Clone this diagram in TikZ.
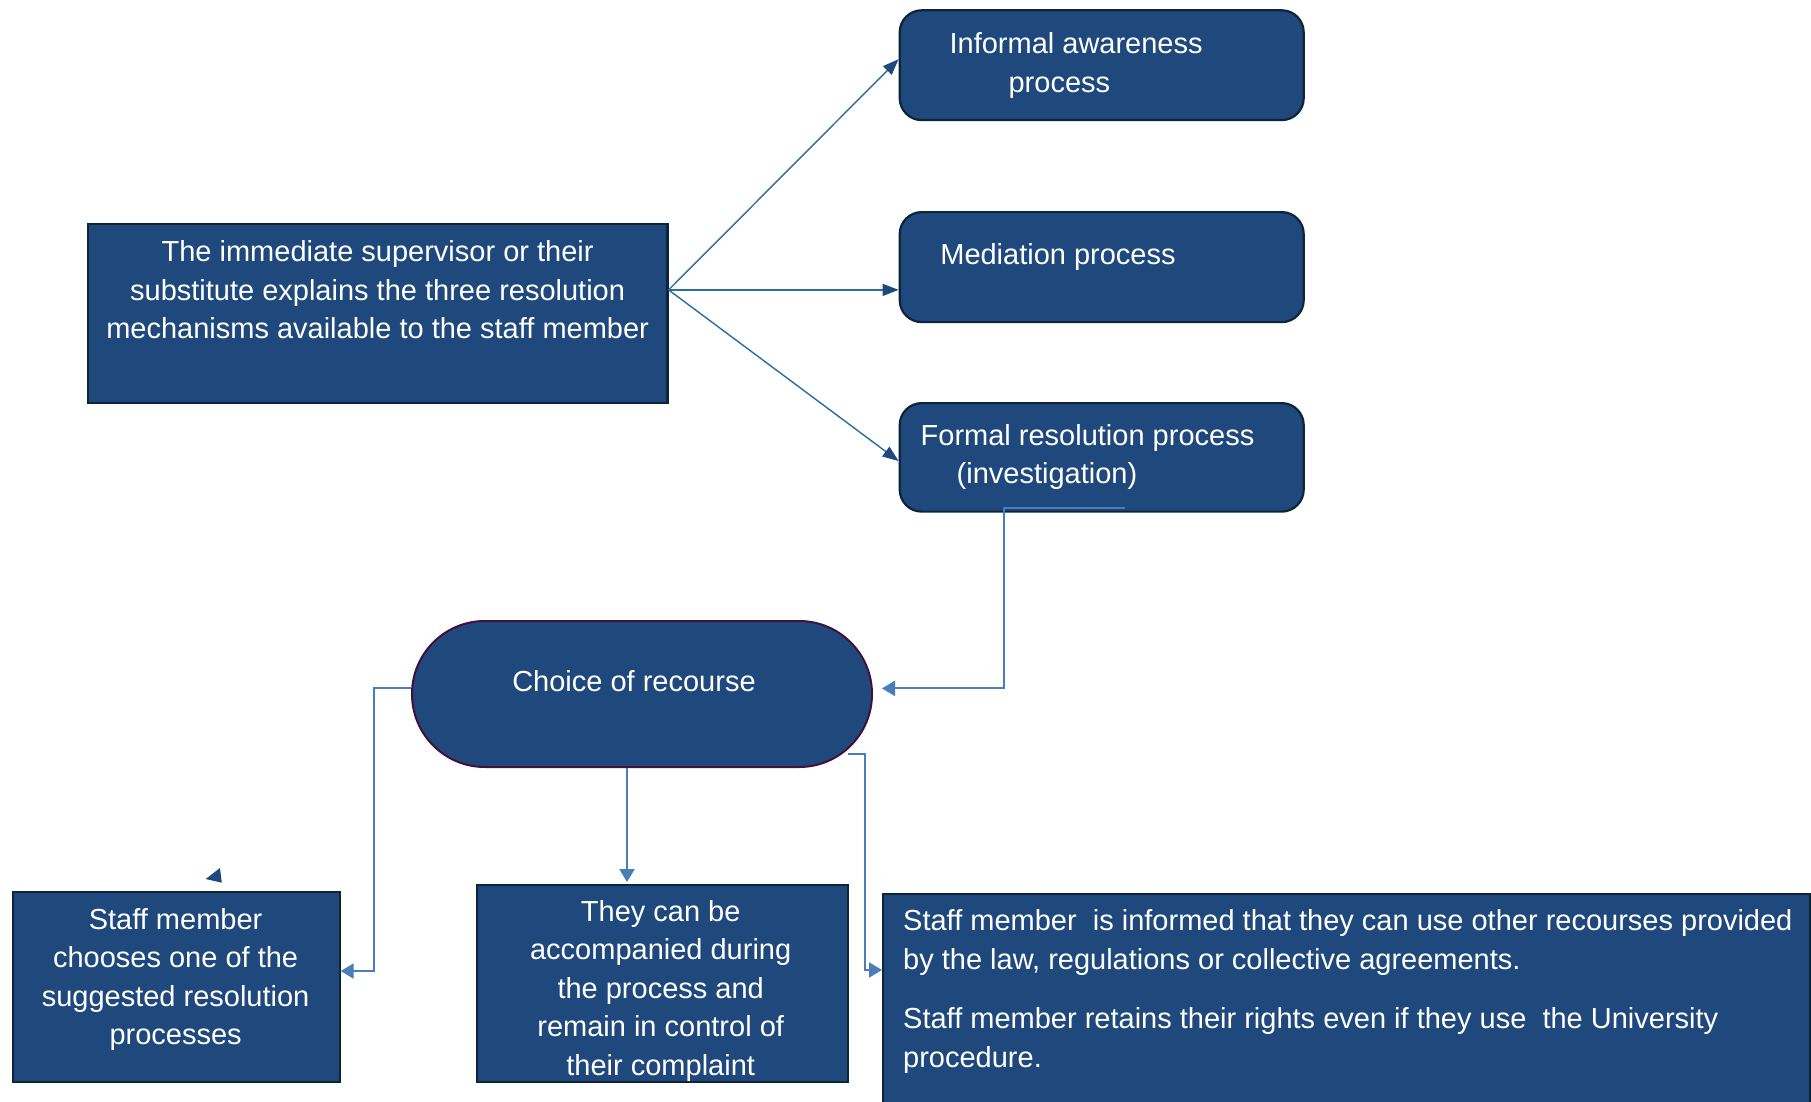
\documentclass[tikz,border=0pt]{standalone}
\usepackage{fontspec}
\setmainfont{Liberation Sans}
\usetikzlibrary{arrows.meta, positioning}
\definecolor{boxblue}{RGB}{31,73,125}
\definecolor{boxline}{RGB}{13,37,56}
\definecolor{ovalline}{RGB}{66,16,58}
\definecolor{linkblue}{RGB}{46,108,156}
\definecolor{feedblue}{RGB}{74,126,187}

\begin{document}
\begin{tikzpicture}[x=1pt, y=-1pt,
        squarebox/.style={
            rectangle, draw=boxline, line width=2.2pt, fill=boxblue,
            anchor=north west, inner sep=0pt
        },
        roundbox/.style={squarebox, rounded corners=22pt},
        ovalbox/.style={
            rectangle, draw=ovalline, line width=2pt, fill=boxblue,
            rounded corners=72.9pt, minimum width=460pt, minimum height=146pt
        },
        txt/.style={
            text=white, font=\fontsize{29}{38.5}\selectfont,
            align=center, inner sep=0pt
        },
        link/.style={draw=linkblue, line width=1.4pt,
            -{Triangle[length=16pt, width=12pt, color=boxblue]}},
        feed/.style={draw=feedblue, line width=2pt,
            -{Triangle[length=13pt, width=15pt]}}
    ]
        \fill[white] (0,0) rectangle (1811,1102);
        \useasboundingbox (0,0) rectangle (1811,1102);

        % boxes
        \node[squarebox, minimum width=579.8pt, minimum height=179pt] (super) at (86.6,223) {};
        \node[roundbox, minimum width=404pt, minimum height=109.8pt] (aware) at (898.6,9.2) {};
        \node[roundbox, minimum width=404pt, minimum height=110pt] (media) at (898.6,211) {};
        \node[roundbox, minimum width=404pt, minimum height=108.5pt] (formal) at (898.6,402) {};
        \node[ovalbox] (choice) at (642,694) {};
        \node[squarebox, minimum width=327pt, minimum height=190.5pt] (picks) at (11.5,890.5) {};
        \node[squarebox, minimum width=370.6pt, minimum height=197.4pt] (accomp) at (476,883.6) {};
        \node[squarebox, minimum width=927pt, minimum height=230pt] (inform) at (882,893) {};

        % texts
        \node[txt] at ([yshift=23.5pt]super.center)
            {The immediate supervisor or their\\substitute explains the three resolution\\mechanisms available to the staff member};
        \node[txt, align=left, anchor=west] at (949.4,65.5)
            {Informal awareness\\\hspace*{59pt}process};
        \node[txt] at (1058,257.5) {Mediation process};
        \node[txt, align=left, anchor=west] at (920.5,457)
            {Formal resolution process\\\hspace*{36pt}(investigation)};
        \node[txt] at (634,681.5) {Choice of recourse};
        \node[txt] at (175.6,979.5)
            {Staff member\\chooses one of the\\suggested resolution\\processes};
        \node[txt] at (660.7,990.5)
            {They can be\\accompanied during\\the process and\\remain in control of\\their complaint};
        \node[txt, align=left, anchor=west] at (903,991.5)
            {Staff member\ \ is informed that they can use other recourses provided\\by the law, regulations or collective agreements.\\[21pt]Staff member retains their rights even if they use\ \ the University\\procedure.};

        % connectors
        \coordinate (fork) at ([yshift=23.7pt]super.east);
        \draw[link] (fork) -- ([yshift=6pt]aware.west);
        \draw[link] (fork) -- ([yshift=-22.8pt]media.west);
        \draw[link] (fork) -- ([yshift=-3.7pt]formal.west);

        \draw[feed] ([xshift=23pt,yshift=4.5pt]formal.south) -- ++(-121.2,0)
            |- ([xshift=9pt,yshift=5.6pt]choice.east);
        \draw[feed] ([yshift=6pt]choice.west) -- ++(-36.6,0) |- ([yshift=15.8pt]picks.east);
        \draw[feed] ([xshift=-15pt]choice.south) -- ++(0,114);
        \draw[feed] ([xshift=-25.4pt,yshift=14pt]choice.south east) -- ++(17.4,0)
            |- ([yshift=-77pt]inform.north west);

        % stray tip above the left box
        \fill[boxblue] (205.7,879) -- (221.8,882.7) -- (220,868) -- cycle;
    \end{tikzpicture}
\end{document}
